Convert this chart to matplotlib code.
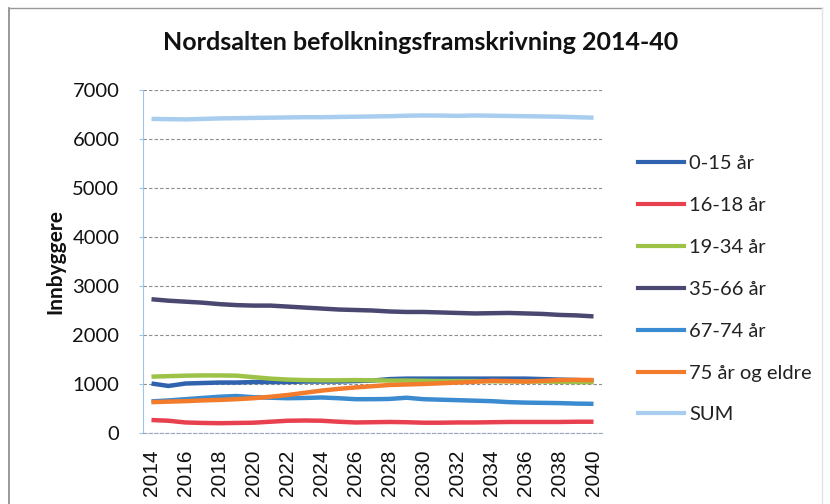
import matplotlib.pyplot as plt
from matplotlib.lines import Line2D
import numpy as np

years = list(range(2014, 2041))

a0_15 = [1010, 960, 1010, 1020, 1030, 1030, 1040, 1040, 1040, 1050, 1050, 1050, 1060, 1070,
         1100, 1110, 1110, 1110, 1110, 1110, 1110, 1110, 1110, 1100, 1090, 1080, 1070]
a16_18 = [265, 250, 215, 205, 200, 205, 210, 230, 250, 255, 250, 230, 215, 220,
          225, 220, 210, 210, 215, 215, 220, 225, 225, 225, 225, 230, 230]
a19_34 = [1150, 1160, 1170, 1175, 1175, 1170, 1140, 1110, 1090, 1080, 1075, 1075, 1080, 1075,
          1070, 1070, 1065, 1060, 1060, 1060, 1055, 1055, 1050, 1050, 1045, 1040, 1040]
a35_66 = [2730, 2700, 2680, 2660, 2630, 2610, 2600, 2600, 2580, 2560, 2540, 2520, 2510, 2500,
          2480, 2470, 2470, 2460, 2450, 2440, 2445, 2450, 2440, 2430, 2410, 2400, 2380]
a67_74 = [645, 665, 690, 715, 740, 755, 730, 720, 710, 715, 725, 710, 690, 690,
          695, 720, 690, 680, 670, 660, 650, 630, 620, 615, 610, 600, 595]
a75 = [630, 640, 650, 665, 675, 690, 710, 740, 775, 820, 865, 900, 930, 955,
       980, 990, 1000, 1015, 1030, 1045, 1065, 1060, 1050, 1065, 1080, 1085, 1080]
total = [6410, 6405, 6400, 6410, 6420, 6425, 6430, 6435, 6440, 6445, 6445, 6450, 6455, 6460,
         6465, 6475, 6480, 6478, 6472, 6480, 6475, 6470, 6465, 6460, 6455, 6445, 6435]

labels = ["0-15 år", "16-18 år", "19-34 år", "35-66 år", "67-74 år", "75 år og eldre", "SUM"]
colors = ["#2f63ad", "#e8404e", "#9cc247", "#4a4870", "#3a8bd0", "#f27c2c", "#a9cdee"]
series = [a0_15, a16_18, a19_34, a35_66, a67_74, a75, total]

fig = plt.figure(figsize=(8.3, 5.04), dpi=100)
W, H = 830, 504
ax = fig.add_axes([143 / W, 1 - 433 / H, 459 / W, 343 / H])

for vals, c, lab in zip(series, colors, labels):
    ax.plot(years, vals, color=c, lw=3.2, label=lab, solid_capstyle="butt")

ax.set_xlim(2013.5, 2040.5)
ax.set_ylim(0, 7000)
ax.set_yticks(range(0, 7001, 1000))
ax.set_xticks(years[::2])
ax.grid(axis="y", color="#8c8c8c", lw=0.8, ls=(0, (3, 2)))
ax.set_axisbelow(True)
for s in ["top", "right"]:
    ax.spines[s].set_visible(False)
ax.spines["left"].set_color("#9ec4ea")
ax.spines["bottom"].set_color("#9aa8c0")
ax.spines["bottom"].set_linestyle((0, (3, 2)))
ax.tick_params(axis="y", length=3, color="#9ec4ea", pad=14, labelsize=14.5,
               labelcolor="#111111")
ax.tick_params(axis="x", length=0, pad=12, labelsize=15, labelrotation=90,
               labelcolor="#111111")
for t in ax.get_yticklabels():
    t.set_fontfamily(["Lato", "DejaVu Sans"])
for t in ax.get_xticklabels():
    t.set_fontfamily(["Liberation Sans", "DejaVu Sans"])

fig.text(421 / W, 1 - 50 / H, "Nordsalten befolkningsframskrivning 2014-40",
         ha="center", va="baseline", fontsize=18, fontweight="bold",
         family=["Lato", "DejaVu Sans"], color="#111111")
fig.text(55 / W, 1 - 261 / H, "Innbyggere", rotation=90, ha="center", va="center",
         fontsize=15, fontweight="bold",
         family=["Lato", "DejaVu Sans"], color="#111111")

handles = [Line2D([], [], color=c, lw=3) for c in colors]
leg = fig.legend(handles, labels, loc="upper left", bbox_to_anchor=(620 / W, 1 - 137 / H),
                 frameon=False, handlelength=2.3, handletextpad=0.25,
                 labelspacing=1.23, prop={"family": ["Lato", "DejaVu Sans"], "size": 14.5})
for t in leg.get_texts():
    t.set_color("#222222")

# chart frame
fig.add_artist(Line2D([9 / W, 9 / W], [0, 1 - 8 / H], color="#888888", lw=1.2))
fig.add_artist(Line2D([9 / W, 822 / W], [1 - 8 / H, 1 - 8 / H], color="#999999", lw=1.0))
fig.add_artist(Line2D([822 / W, 822 / W], [0, 1 - 8 / H], color="#e2e2e2", lw=1.0))

fig.savefig("out.png", dpi=100)
